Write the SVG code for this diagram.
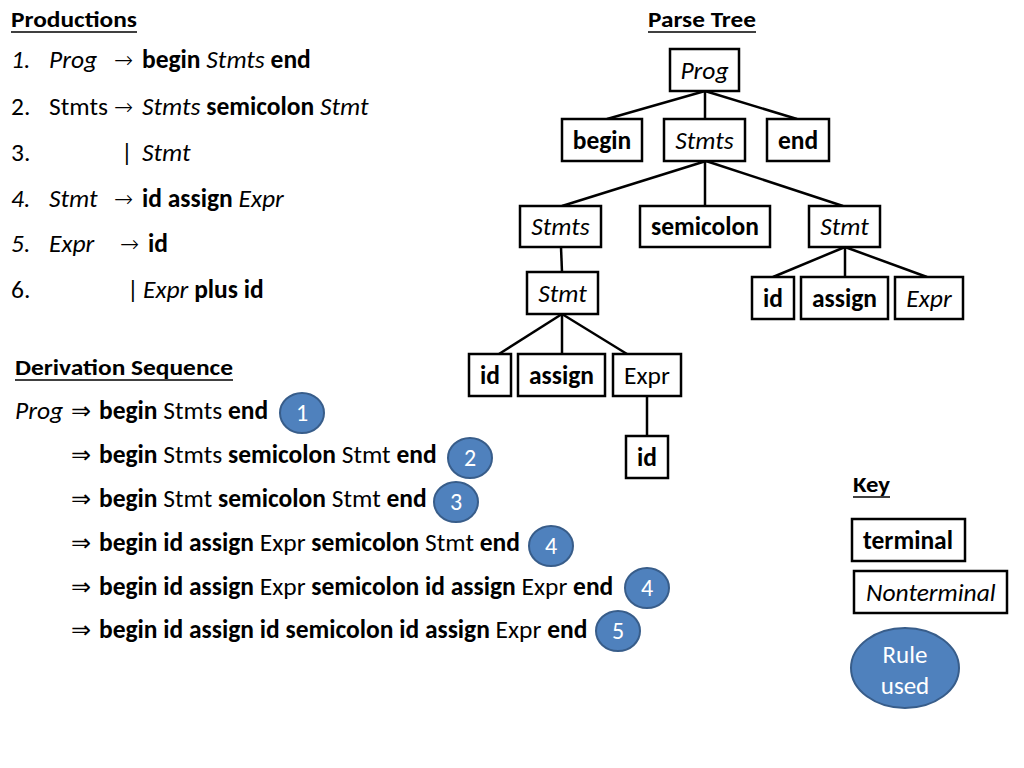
<svg xmlns="http://www.w3.org/2000/svg" width="1024" height="768" viewBox="0 0 1024 768">
<style>
.t{font-family:Carlito,Lato,"Liberation Sans",sans-serif;font-size:25.5px;fill:#000}
.h{font-family:Carlito,Lato,"Liberation Sans",sans-serif;font-size:23px;font-weight:bold;fill:#000}
.b{font-weight:bold}
.i{font-style:italic}
.a{font-family:"Liberation Sans","DejaVu Sans",sans-serif;font-size:24px;font-style:normal}
.r{font-family:"DejaVu Sans",sans-serif;font-size:23px;font-weight:200;font-style:normal}
.box{fill:#fff;stroke:#000;stroke-width:2.5}
.edge{stroke:#000;stroke-width:2.5;fill:none}
.ul{stroke:#000;stroke-width:1.5}
.rule{fill:#4F81BD;stroke:#385D8A;stroke-width:2}
.n{font-family:Carlito,Lato,"Liberation Sans",sans-serif;font-size:24px;fill:#fff;text-anchor:middle}
.c{text-anchor:middle}
</style>
<rect width="1024" height="768" fill="#fff"/>

<g id="productions">
<text class="h" x="11" y="27" textLength="126" lengthAdjust="spacingAndGlyphs">Productions</text>
<line class="ul" x1="11" y1="32" x2="137" y2="32"/>
<text class="t" y="68"><tspan x="11" class="i">1.</tspan><tspan x="49" class="i">Prog</tspan><tspan x="114" class="r">→</tspan><tspan x="142" class="b">begin</tspan> <tspan class="i">Stmts</tspan> <tspan class="b">end</tspan></text>
<text class="t" y="115"><tspan x="11">2.</tspan><tspan x="49">Stmts</tspan><tspan x="114" class="r">→</tspan><tspan x="142" class="i">Stmts</tspan> <tspan class="b">semicolon</tspan> <tspan class="i">Stmt</tspan></text>
<text class="t" y="161"><tspan x="11">3.</tspan><tspan x="121">|</tspan><tspan x="142" class="i">Stmt</tspan></text>
<text class="t" y="207"><tspan x="11" class="i">4.</tspan><tspan x="49" class="i">Stmt</tspan><tspan x="114" class="r">→</tspan><tspan x="142" class="b">id assign</tspan> <tspan class="i">Expr</tspan></text>
<text class="t" y="252"><tspan x="11" class="i">5.</tspan><tspan x="49" class="i">Expr</tspan><tspan x="120" class="r">→</tspan><tspan x="148" class="b">id</tspan></text>
<text class="t" y="298"><tspan x="11">6.</tspan><tspan x="127">|</tspan><tspan x="143" class="i">Expr</tspan> <tspan class="b">plus id</tspan></text>
</g>

<g id="derivation">
<text class="h" x="15" y="375" textLength="218" lengthAdjust="spacingAndGlyphs">Derivation Sequence</text>
<line class="ul" x1="15" y1="380" x2="233" y2="380"/>
<text class="t" y="419"><tspan x="15" class="i">Prog</tspan><tspan x="71" class="a">⇒</tspan><tspan x="99" class="b">begin</tspan> Stmts <tspan class="b">end</tspan></text>
<text class="t" y="463"><tspan x="71" class="a">⇒</tspan><tspan x="99" class="b">begin</tspan> Stmts <tspan class="b">semicolon</tspan> Stmt <tspan class="b">end</tspan></text>
<text class="t" y="507"><tspan x="71" class="a">⇒</tspan><tspan x="99" class="b">begin</tspan> Stmt <tspan class="b">semicolon</tspan> Stmt <tspan class="b">end</tspan></text>
<text class="t" y="551"><tspan x="71" class="a">⇒</tspan><tspan x="99" class="b">begin id assign</tspan> Expr <tspan class="b">semicolon</tspan> Stmt <tspan class="b">end</tspan></text>
<text class="t" y="595"><tspan x="71" class="a">⇒</tspan><tspan x="99" class="b">begin id assign</tspan> Expr <tspan class="b">semicolon id assign</tspan> Expr <tspan class="b">end</tspan></text>
<text class="t" y="638"><tspan x="71" class="a">⇒</tspan><tspan x="99" class="b">begin id assign id semicolon id assign</tspan> Expr <tspan class="b">end</tspan></text>
</g>

<g id="rules-used">
<g id="rule-1"><ellipse class="rule" cx="302" cy="413" rx="22" ry="20"/><text class="n" x="302" y="421">1</text></g>
<g id="rule-2"><ellipse class="rule" cx="470" cy="458" rx="22" ry="20"/><text class="n" x="470" y="466">2</text></g>
<g id="rule-3"><ellipse class="rule" cx="456" cy="502" rx="22" ry="20"/><text class="n" x="456" y="510">3</text></g>
<g id="rule-4a"><ellipse class="rule" cx="551" cy="546" rx="22" ry="20"/><text class="n" x="551" y="554">4</text></g>
<g id="rule-4b"><ellipse class="rule" cx="647" cy="588" rx="22" ry="20"/><text class="n" x="647" y="596">4</text></g>
<g id="rule-5"><ellipse class="rule" cx="618" cy="631" rx="22" ry="20"/><text class="n" x="618" y="639">5</text></g>
</g>

<g id="parse-tree-title">
<text class="h" x="648" y="27" textLength="108" lengthAdjust="spacingAndGlyphs">Parse Tree</text>
<line class="ul" x1="648" y1="32" x2="756" y2="32"/>
</g>

<g id="connectors">
<line class="edge" x1="705" y1="91" x2="607" y2="119"/>
<line class="edge" x1="705" y1="91" x2="705" y2="119"/>
<line class="edge" x1="705" y1="91" x2="797" y2="119"/>
<line class="edge" x1="706" y1="161" x2="562" y2="206"/>
<line class="edge" x1="705" y1="161" x2="705" y2="206"/>
<line class="edge" x1="706" y1="161" x2="843" y2="206"/>
<line class="edge" x1="561" y1="247" x2="562" y2="272"/>
<line class="edge" x1="562" y1="314" x2="499" y2="354"/>
<line class="edge" x1="562" y1="314" x2="562" y2="354"/>
<line class="edge" x1="562" y1="314" x2="627" y2="354"/>
<line class="edge" x1="845" y1="247" x2="773" y2="277"/>
<line class="edge" x1="845" y1="247" x2="845" y2="277"/>
<line class="edge" x1="845" y1="247" x2="927" y2="277"/>
<line class="edge" x1="647" y1="396" x2="647" y2="436"/>
</g>

<g id="n-prog"><rect class="box" x="670" y="49" width="69" height="42"/><text class="t i c" x="704.5" y="79">Prog</text></g>
<g id="n-begin"><rect class="box" x="562" y="119" width="80" height="42"/><text class="t b c" x="602" y="149">begin</text></g>
<g id="n-stmts1"><rect class="box" x="664" y="119" width="81" height="42"/><text class="t i c" x="704.5" y="149">Stmts</text></g>
<g id="n-end"><rect class="box" x="767" y="119" width="62" height="42"/><text class="t b c" x="798" y="149">end</text></g>
<g id="n-stmts2"><rect class="box" x="520" y="206" width="81" height="41"/><text class="t i c" x="560.5" y="235">Stmts</text></g>
<g id="n-semicolon"><rect class="box" x="640" y="206" width="130" height="41"/><text class="t b c" x="705" y="235">semicolon</text></g>
<g id="n-stmt-r"><rect class="box" x="809" y="206" width="71" height="41"/><text class="t i c" x="844.5" y="235">Stmt</text></g>
<g id="n-stmt-l"><rect class="box" x="527" y="272" width="71" height="42"/><text class="t i c" x="562.5" y="302">Stmt</text></g>
<g id="n-id-r"><rect class="box" x="752" y="277" width="42" height="42"/><text class="t b c" x="773" y="307">id</text></g>
<g id="n-assign-r"><rect class="box" x="801" y="277" width="87" height="42"/><text class="t b c" x="844.5" y="307">assign</text></g>
<g id="n-expr-r"><rect class="box" x="895" y="277" width="68" height="42"/><text class="t i c" x="929" y="307">Expr</text></g>
<g id="n-id-l"><rect class="box" x="469" y="354" width="42" height="42"/><text class="t b c" x="490" y="384">id</text></g>
<g id="n-assign-l"><rect class="box" x="518" y="354" width="87" height="42"/><text class="t b c" x="561.5" y="384">assign</text></g>
<g id="n-expr-l"><rect class="box" x="613" y="354" width="68" height="42"/><text class="t c" x="647" y="384">Expr</text></g>
<g id="n-id-b"><rect class="box" x="626" y="436" width="42" height="42"/><text class="t b c" x="647" y="466">id</text></g>

<g id="key">
<text class="h" x="853" y="492" textLength="37" lengthAdjust="spacingAndGlyphs">Key</text>
<line class="ul" x1="853" y1="497" x2="890" y2="497"/>
<g id="key-terminal"><rect class="box" x="852" y="519" width="113" height="42"/><text class="t b" x="863" y="549">terminal</text></g>
<g id="key-nonterminal"><rect class="box" x="854" y="571" width="153" height="42"/><text class="t i" x="866" y="601">Nonterminal</text></g>
<g id="key-rule"><ellipse class="rule" cx="905" cy="668" rx="54" ry="40"/><text class="n" x="905" y="663" style="font-size:25px">Rule</text><text class="n" x="905" y="694" style="font-size:25px">used</text></g>
</g>
</svg>
